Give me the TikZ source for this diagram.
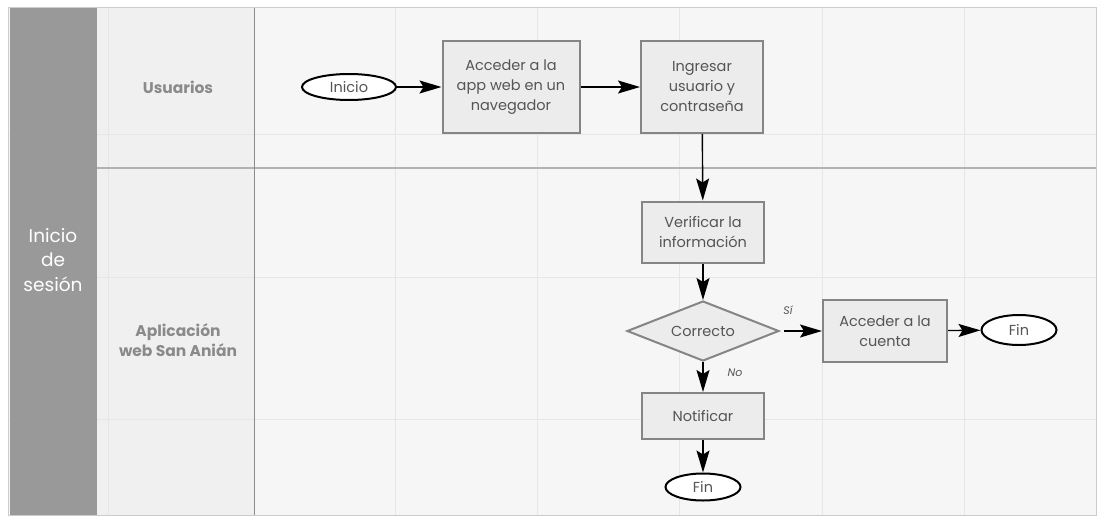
\documentclass[tikz,border=0pt]{standalone}
\usepackage{fontspec}
\setmainfont{Poppins}
\usetikzlibrary{arrows.meta,shapes.geometric}
\definecolor{dark}{HTML}{999999}
\definecolor{head}{HTML}{F0F0F0}
\definecolor{canvas}{HTML}{F6F6F6}
\definecolor{gridc}{HTML}{E6E6E6}
\definecolor{boxfill}{HTML}{ECECEC}
\definecolor{boxline}{HTML}{858585}
\definecolor{txt}{HTML}{555555}
\definecolor{lane}{HTML}{8A8A8A}
\tikzset{
  procbox/.style={draw=boxline,fill=boxfill,line width=2pt,align=center,text=txt,font=\fontsize{14.5}{20}\selectfont,inner sep=0pt},
  term/.style={ellipse,draw=black,fill=white,line width=2pt,text=txt,font=\fontsize{14.5}{18}\selectfont,inner sep=0pt},
  decide/.style={diamond,draw=boxline,fill=boxfill,line width=2pt,text=txt,font=\fontsize{14.5}{18}\selectfont,inner sep=0pt,aspect=2.5},
  flow/.style={-{Stealth[length=22pt,width=13pt,inset=4pt]},line width=1.4pt,black},
  lanelbl/.style={text=lane,font=\bfseries\fontsize{15.5}{20}\selectfont,align=center},
  edgelbl/.style={text=txt,font=\itshape\fontsize{11}{12}\selectfont}
}
\begin{document}
\begin{tikzpicture}[x=1pt,y=-1pt]
\useasboundingbox (0,0) rectangle (1098,517);
\fill[white] (0,0) rectangle (1098,517);
% canvas
\fill[canvas] (8,7) rectangle (1096,515);
\fill[head] (97,7) rectangle (254,515);
% grid
\foreach \x in {395,537,679,822,964} \draw[gridc,line width=1pt] (\x,7) -- (\x,515);
\draw[gridc,line width=1pt] (108,7) -- (108,515);
\foreach \y in {134,277,419} \draw[gridc,line width=1pt] (8,\y) -- (1096,\y);
% dark column
\fill[dark] (10,7) rectangle (97,515);
% separators
\draw[black!30,line width=1.2pt] (97,168) -- (1096,168);
\draw[black!45,line width=1pt] (254,7) -- (254,515);
\draw[black!20,line width=1pt] (8,7) rectangle (1096,515);
% lane labels
\node[text=white,align=center,font=\fontsize{18.5}{24.5}\selectfont] (pool) at (53,260) {Inicio\\de\\sesión};
\node[lanelbl] (l1) at (178,87) {Usuarios};
\node[lanelbl] (l2) at (178,340) {Aplicación\\web San Anián};
% nodes
\node[term,minimum width=94pt,minimum height=26pt] (ini) at (349,87) {Inicio};
\node[procbox,minimum width=137pt,minimum height=92pt] (acc) at (511,87) {Acceder a la\\app web en un\\navegador};
\node[procbox,minimum width=122pt,minimum height=92pt] (ing) at (702,87) {Ingresar\\usuario y\\contraseña};
\node[procbox,minimum width=122pt,minimum height=61pt] (ver) at (703,232) {Verificar la\\información};
\node[decide,minimum width=152pt,minimum height=60pt] (cor) at (703,331) {Correcto};
\node[procbox,minimum width=124pt,minimum height=62pt] (cta) at (885,331) {Acceder a la\\cuenta};
\node[term,minimum width=75pt,minimum height=30pt] (fin1) at (1019,330) {Fin};
\node[procbox,minimum width=122pt,minimum height=46pt] (not) at (703,416) {Notificar};
\node[term,minimum width=75pt,minimum height=27pt] (fin2) at (703,487) {Fin};
% connectors
\draw[flow] ([xshift=4pt]cor.east) -- (cta);
\node[edgelbl] (si) at (788,310) {Sí};
\draw[flow] (ini) -- (acc);
\draw[flow] (acc) -- (ing);
\draw[flow] (ing) -- (ver);
\draw[flow] (ver) -- (cor);
\draw[flow] (cta) -- (fin1);
\draw[flow] (cor) -- (not);
\node[edgelbl] (no) at (735,373) {No};
\draw[flow] (not) -- (fin2);
\end{tikzpicture}
\end{document}
